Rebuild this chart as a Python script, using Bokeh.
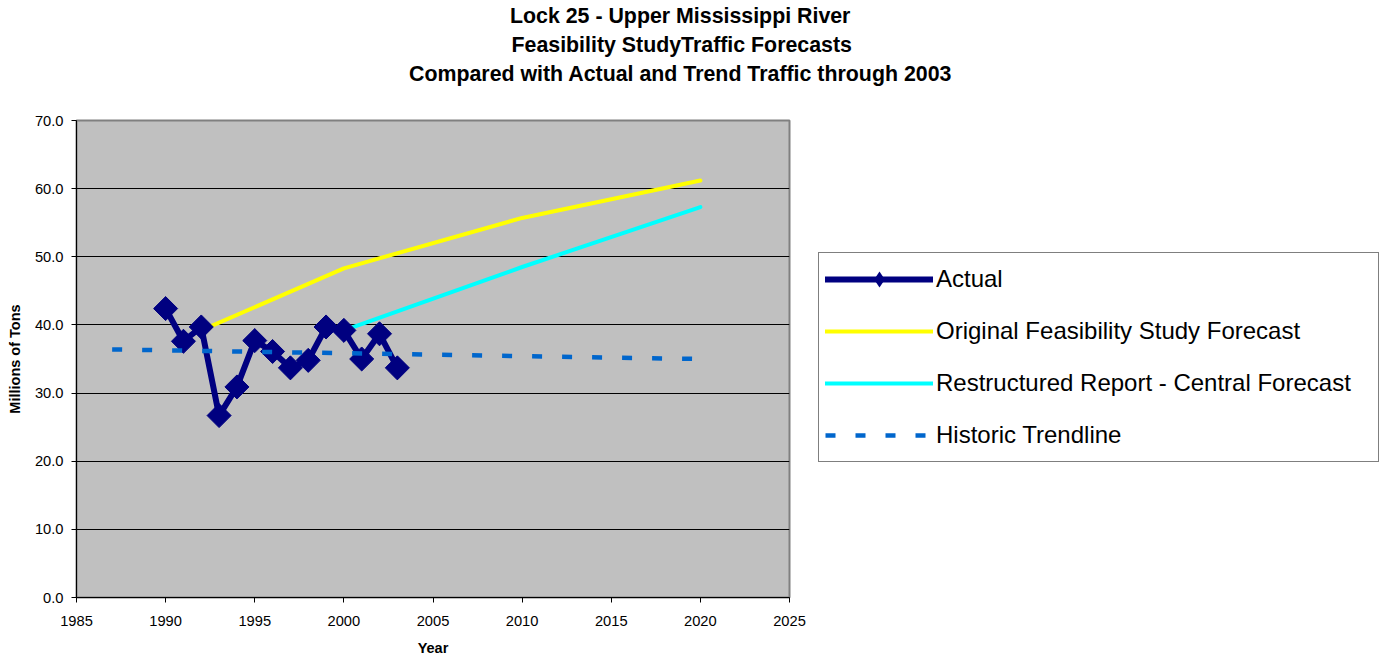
import math
from bokeh.plotting import figure
from bokeh.models import (Range1d, FixedTicker, NumeralTickFormatter, Legend,
                          LegendItem, Title)
from bokeh.embed import file_html
from bokeh.resources import INLINE

# ---------------- data ----------------
title_lines = [
    "Lock 25 - Upper Mississippi River",
    "Feasibility StudyTraffic Forecasts",
    "Compared with Actual and Trend Traffic through 2003",
]
actual_years = [1990, 1991, 1992, 1993, 1994, 1995, 1996, 1997, 1998, 1999,
                2000, 2001, 2002, 2003]
actual_values = [42.4, 37.6, 39.7, 26.7, 30.9, 37.7, 36.1, 33.7, 34.8, 39.7,
                 39.2, 35.0, 38.7, 33.7]
original_years = [1992, 2000, 2010, 2020]
original_values = [39.2, 48.3, 55.7, 61.2]
restructured_years = [2000, 2010, 2020]
restructured_values = [39.2, 48.5, 57.3]
trend_years = [1987, 2020]
trend_values = [36.4, 35.0]
x_ticks = [1985, 1990, 1995, 2000, 2005, 2010, 2015, 2020, 2025]
y_ticks = [0, 10, 20, 30, 40, 50, 60, 70]
series_names = ["Actual", "Original Feasibility Study Forecast",
                "Restructured Report - Central Forecast", "Historic Trendline"]

FONT = "Liberation Sans"

p = figure(frame_width=713, frame_height=477,
           min_border_left=76, min_border_right=597,
           min_border_top=120, min_border_bottom=59,
           x_range=Range1d(1985, 2025), y_range=Range1d(0, 70),
           output_backend="svg", toolbar_location=None, tools="")

p.background_fill_color = "#C0C0C0"
p.border_fill_color = "white"
p.outline_line_color = "#808080"
p.outline_line_width = 2

p.xgrid.visible = False
p.ygrid.grid_line_color = "black"
p.ygrid.grid_line_width = 1
p.ygrid.ticker = FixedTicker(ticks=y_ticks)

for ax in (p.xaxis[0], p.yaxis[0]):
    ax.axis_line_color = "black"
    ax.major_tick_line_color = "black"
    ax.major_tick_out = 5
    ax.major_tick_in = 0
    ax.minor_tick_line_color = None
    ax.major_label_text_font = FONT
    ax.major_label_text_font_size = "14.7px"
    ax.major_label_text_color = "black"
    ax.axis_label_text_font = FONT
    ax.axis_label_text_font_size = "14.5px"
    ax.axis_label_text_font_style = "bold"
    ax.axis_label_text_color = "black"

p.xaxis.ticker = FixedTicker(ticks=x_ticks)
p.yaxis.ticker = FixedTicker(ticks=y_ticks)
p.yaxis.formatter = NumeralTickFormatter(format="0.0")
p.xaxis.axis_label = "Year"
p.yaxis.axis_label = "Millions of Tons"
p.xaxis.major_label_standoff = 13
p.xaxis.axis_label_standoff = 11
p.yaxis.major_label_standoff = 8
p.yaxis.axis_label_standoff = 9

r_orig = p.line(original_years, original_values, line_color="#FFFF00",
                line_width=4, line_cap="round", line_join="round")
r_rest = p.line(restructured_years, restructured_values, line_color="#00FFFF",
                line_width=4, line_cap="round", line_join="round")
r_act_line = p.line(actual_years, actual_values, line_color="#000080",
                    line_width=6, line_join="round", line_cap="round")
r_act_pts = p.scatter(actual_years, actual_values, marker="square", size=17,
                      angle=math.pi / 4, fill_color="#000080",
                      line_color="#000080")
r_act_leg = p.scatter(actual_years, actual_values, marker="diamond", size=0,
                      fill_color="#000080", line_alpha=0)
r_trend = p.line(trend_years, trend_values, line_color="#0066CC",
                 line_width=4.5, line_dash="10 20")

legend = Legend(items=[
    LegendItem(label=series_names[0], renderers=[r_act_line, r_act_leg]),
    LegendItem(label=series_names[1], renderers=[r_orig]),
    LegendItem(label=series_names[2], renderers=[r_rest]),
    LegendItem(label=series_names[3], renderers=[r_trend]),
], location=(29, 135))
legend.label_text_font = FONT
legend.label_text_font_size = "24px"
legend.label_text_color = "black"
legend.glyph_width = 108
legend.glyph_height = 40
legend.label_width = 436
legend.label_height = 24
legend.label_standoff = 3
legend.spacing = 12
legend.padding = 6
legend.margin = 19
legend.border_line_color = "black"
legend.border_line_width = 1
legend.background_fill_color = "white"
legend.background_fill_alpha = 1
p.add_layout(legend, "right")

# spacer between plot and title block
p.add_layout(Title(text=" ", standoff=8, text_font=FONT,
                   text_font_size="21px"), "above")

# title lines (added bottom line first so it sits closest to the plot)
title_left = [509.5, 511, 408.5]
for i in (2, 1, 0):
    p.add_layout(Title(text=title_lines[i], align="left",
                       offset=title_left[i] - 76, standoff=3,
                       text_font=FONT, text_font_size="21.35px",
                       text_font_style="bold", text_color="black"), "above")

open("out.html", "w").write(file_html(p, INLINE))
